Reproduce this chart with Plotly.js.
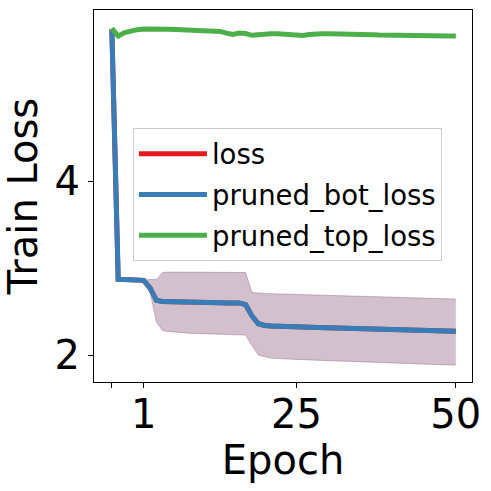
<!DOCTYPE html>
<html>
<head>
<meta charset="utf-8">
<script src="https://cdn.plot.ly/plotly-3.0.1.min.js"></script>
<style>html,body{margin:0;padding:0;background:#fff;}#chart{width:491px;height:491px;}</style>
</head>
<body>
<div id="chart"></div>
<script>
// epochs (first points are pre-training steps before epoch 1)
const epochs = [-4,-3,-2,-1,0,1,2,3,4,5,6,7,8,9,10,11,12,13,14,15,16,17,18,19,20,21,22,23,24,25,26,27,28,29,30,31,32,33,34,35,36,37,38,39,40,41,42,43,44,45,46,47,48,49,50];

const lossMean = [5.75,2.87,2.87,2.87,2.865,2.86,2.77,2.63,2.615,2.615,2.615,2.612,2.61,2.61,2.61,2.607,2.605,2.603,2.6,2.6,2.6,2.58,2.45,2.36,2.34,2.335,2.33,2.33,2.325,2.325,2.322,2.32,2.318,2.316,2.315,2.313,2.31,2.31,2.307,2.305,2.303,2.3,2.298,2.296,2.294,2.292,2.29,2.288,2.286,2.284,2.282,2.28,2.278,2.276,2.274];
const lossUpper = [5.75,2.87,2.87,2.87,2.865,2.86,2.87,2.87,2.95,2.955,2.955,2.955,2.955,2.955,2.955,2.955,2.955,2.955,2.955,2.955,2.955,2.95,2.72,2.71,2.708,2.706,2.704,2.702,2.70,2.698,2.696,2.694,2.692,2.69,2.688,2.686,2.684,2.682,2.68,2.678,2.676,2.674,2.672,2.67,2.668,2.666,2.664,2.662,2.66,2.658,2.656,2.654,2.652,2.648,2.645];
const lossLower = [5.75,2.87,2.87,2.87,2.865,2.86,2.73,2.38,2.28,2.27,2.262,2.256,2.252,2.249,2.246,2.244,2.242,2.24,2.238,2.235,2.232,2.23,2.11,2.0,1.98,1.965,1.96,1.955,1.952,1.95,1.947,1.944,1.941,1.938,1.935,1.932,1.929,1.926,1.923,1.92,1.917,1.914,1.911,1.908,1.905,1.902,1.90,1.898,1.896,1.894,1.892,1.89,1.888,1.886,1.885];

// pruned_bot_loss coincides with loss
const botMean = lossMean.slice();
const botUpper = lossUpper.slice();
const botLower = lossLower.slice();

const topMean = [5.76,5.67,5.71,5.735,5.745,5.752,5.755,5.755,5.752,5.75,5.748,5.745,5.742,5.74,5.738,5.735,5.73,5.725,5.705,5.69,5.705,5.70,5.68,5.69,5.695,5.698,5.698,5.695,5.69,5.685,5.678,5.69,5.698,5.698,5.697,5.697,5.697,5.695,5.692,5.69,5.688,5.685,5.682,5.68,5.678,5.676,5.675,5.675,5.674,5.674,5.673,5.673,5.672,5.672,5.672];
const topSpread = [0,0,0,0,0,0.002,0.002,0.003,0.003,0.003,0.004,0.004,0.004,0.005,0.005,0.005,0.006,0.006,0.006,0.007,0.007,0.007,0.008,0.008,0.008,0.009,0.009,0.009,0.01,0.01,0.01,0.011,0.011,0.011,0.012,0.012,0.012,0.013,0.013,0.013,0.014,0.014,0.014,0.015,0.015,0.015,0.016,0.016,0.016,0.017,0.017,0.017,0.018,0.018,0.018];

const xTickVals = [-4, 1, 25, 50];
const xTickText = ['', '1', '25', '50'];

const names = ['loss', 'pruned_bot_loss', 'pruned_top_loss'];
const colors = ['#e41a1c', '#377eb8', '#4daf4a'];
const fills = ['rgba(228,26,28,0.2)', 'rgba(55,126,184,0.2)', 'rgba(77,175,74,0.2)'];

function band(lower, upper, i) {
  return [
    {x: epochs, y: lower, mode: 'lines', line: {color: fills[i], width: 1}, showlegend: false, legendgroup: names[i], hoverinfo: 'skip'},
    {x: epochs, y: upper, mode: 'lines', fill: 'tonexty', fillcolor: fills[i], line: {color: fills[i], width: 1}, showlegend: false, legendgroup: names[i], hoverinfo: 'skip'}
  ];
}
function line(y, i) {
  return {x: epochs, y: y, mode: 'lines', name: names[i], legendgroup: names[i], line: {color: colors[i], width: 5}};
}

const topUpper = topMean.map((v, k) => v + topSpread[k]);
const topLower = topMean.map((v, k) => v - topSpread[k]);

const data = [
  ...band(lossLower, lossUpper, 0), line(lossMean, 0),
  ...band(botLower, botUpper, 1), line(botMean, 1),
  ...band(topLower, topUpper, 2), line(topMean, 2)
];

const layout = {
  width: 491, height: 491,
  margin: {l: 94, r: 19, t: 10, b: 109},
  paper_bgcolor: '#fff', plot_bgcolor: '#fff',
  font: {family: 'DejaVu Sans', color: '#000'},
  showlegend: true,
  legend: {
    x: 0.103, y: 0.682, xanchor: 'left', yanchor: 'top',
    bgcolor: 'rgba(255,255,255,0.8)', bordercolor: '#cccccc', borderwidth: 1,
    font: {family: 'DejaVu Sans', size: 27.5, color: '#000'},
    traceorder: 'grouped', tracegroupgap: 2, itemwidth: 68
  },
  xaxis: {
    range: [-6.8, 52.54], tickvals: xTickVals, ticktext: xTickText,
    showgrid: false, zeroline: false, showline: true, mirror: true, linecolor: '#000', linewidth: 1,
    ticks: 'outside', ticklen: 5, tickcolor: '#000', ticklabelstandoff: -8,
    tickfont: {family: 'DejaVu Sans', size: 40, color: '#000'},
    title: {text: 'Epoch', font: {family: 'DejaVu Sans', size: 40, color: '#000'}, standoff: 4}
  },
  yaxis: {
    range: [1.69, 5.971], tickvals: [2, 4], ticktext: ['2', '4'],
    showgrid: false, zeroline: false, showline: true, mirror: true, linecolor: '#000', linewidth: 1,
    ticks: 'outside', ticklen: 5, tickcolor: '#000',
    tickfont: {family: 'DejaVu Sans', size: 40, color: '#000'},
    title: {text: 'Train Loss', font: {family: 'DejaVu Sans', size: 40, color: '#000'}, standoff: 12}
  }
};

Plotly.newPlot('chart', data, layout, {displayModeBar: false, staticPlot: true});
</script>
</body>
</html>
